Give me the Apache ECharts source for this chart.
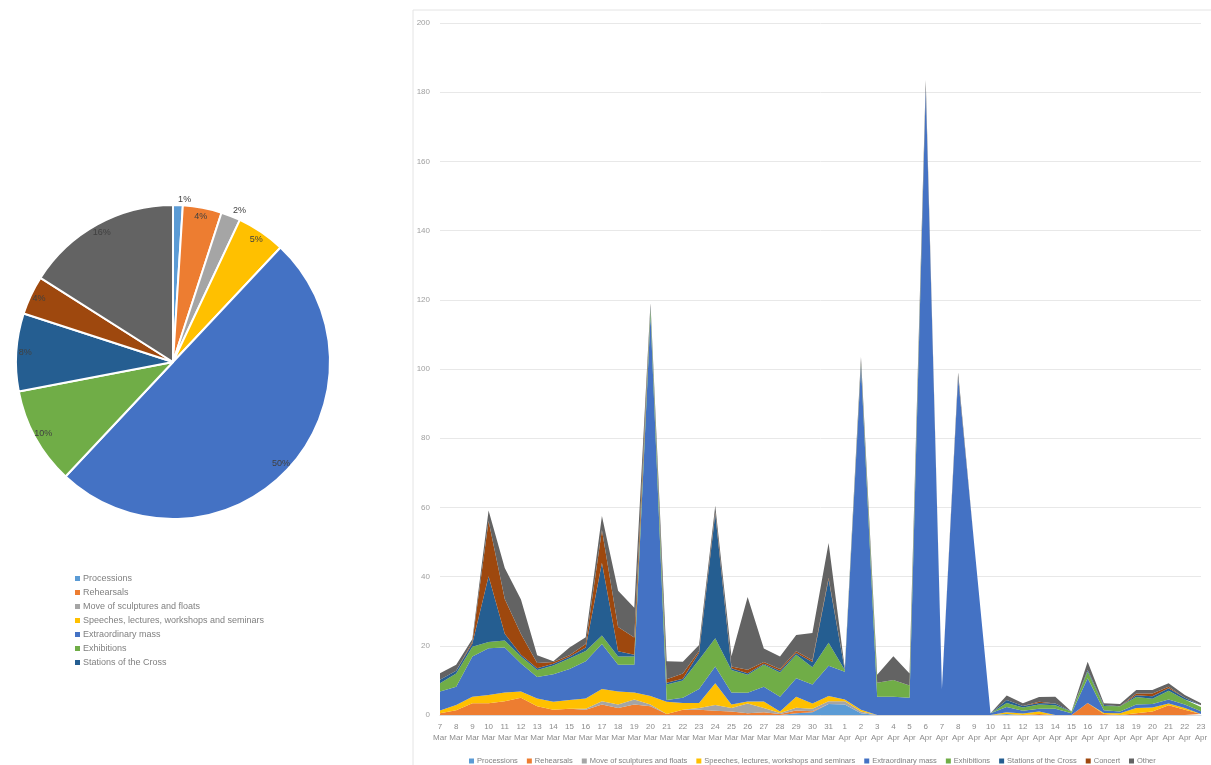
<!DOCTYPE html>
<html>
<head>
<meta charset="utf-8">
<script src="https://cdn.jsdelivr.net/npm/echarts@6/dist/echarts.min.js"></script>
<style>
html,body{margin:0;padding:0;background:#fff;}
#c{width:1211px;height:765px;}
</style>
</head>
<body>
<div id="c"></div>
<script>
const seriesNames = ['Processions','Rehearsals','Move of sculptures and floats','Speeches, lectures, workshops and seminars','Extraordinary mass','Exhibitions','Stations of the Cross','Concert','Other'];
const colors = ['#5B9BD5','#ED7D31','#A5A5A5','#FFC000','#4472C4','#70AD47','#255E91','#9E480E','#636363'];
const pieValues = [1,4,2,5,50,10,8,4,16];
const pieLegendNames = ['Processions','Rehearsals','Move of sculptures and floats','Speeches, lectures, workshops and seminars','Extraordinary mass','Exhibitions','Stations of the Cross'];

const categories = ['7 Mar','8 Mar','9 Mar','10 Mar','11 Mar','12 Mar','13 Mar','14 Mar','15 Mar','16 Mar','17 Mar','18 Mar','19 Mar','20 Mar','21 Mar','22 Mar','23 Mar','24 Mar','25 Mar','26 Mar','27 Mar','28 Mar','29 Mar','30 Mar','31 Mar',
'1 Apr','2 Apr','3 Apr','4 Apr','5 Apr','6 Apr','7 Apr','8 Apr','9 Apr','10 Apr','11 Apr','12 Apr','13 Apr','14 Apr','15 Apr','16 Apr','17 Apr','18 Apr','19 Apr','20 Apr','21 Apr','22 Apr','23 Apr'];

const processions = [0,0,0,0,0,0,0,0,0,0,0,0,0,0,0,0,0,0,0,0,0,0,0.5,0.8,3.2,3,0.5,0,0,0,0,0,0,0,0,0.3,0,0,0,0,0,0,0,0,0,0,0,0];
const rehearsals = [0.5,1.4,3.4,3.4,4,5,2.5,1.5,1.8,1.5,3,2,3,2.5,0.3,1.5,1.5,1.2,1,0.5,0.8,0.3,0.8,0.3,0,0,0,0,0,0,0,0,0,0,0,0,0,0.3,0,0,3.5,0.3,0,0.5,1,2.8,1.5,0.3];
const moveSculptures = [0,0,0,0,0,0,0,0,0,0.3,1,1,1.5,0.5,0,0,0.5,1.7,1,2.8,1.2,0.3,0.8,0.7,0.8,1,0.5,0,0,0,0,0,0,0,0,0,0,0,0,0,0,0,0,0,0,0,0,0];
const speeches = [0.8,1.5,1.9,2.4,2.5,1.8,2.3,2.3,2.5,3,3.5,3.8,2,2.5,3.5,2,1.5,6.3,1,0.6,1.9,0.4,3.2,1.5,1.5,0.5,0.5,0,0,0,0,0,0,0,0,0.5,0.4,0.7,0,0,0,0.3,0.5,1.5,1.2,0.5,0.5,0];
const extraordinaryMass = [5.5,5.3,11.6,13.5,13,8.1,6.2,8,9,10.7,13,7.7,8,110,0.5,1.5,4,4.8,3.5,2.5,4.3,4.3,5.3,5.5,8.7,8,99.5,5.3,5.3,5,181,7.5,97.5,49,0.5,1.5,0.8,0.8,1.8,0.5,7.1,0.8,0.5,1,1,1.2,1,0.8];
const exhibitions = [2.4,3.8,2.8,1.8,2,2,2,2.5,3,3,2.5,2.4,2.4,2,4.5,5,8.5,8.2,6.5,5.2,6.3,7,6.8,5,6.7,0.5,0.5,4,4.8,3.5,0,0,0,0,0,1.2,1,1.2,1,0.5,2,1.2,1.5,2.2,1.5,2.5,1.5,1.2];
const stations = [1,0.8,1,19,2,0.5,0.5,0.5,0.5,1,21,1.5,0.5,0.5,0.5,0.5,2,36,0.5,0.5,0.3,0.5,0.5,1.5,18.3,0,0,0,0,0,0,0,0,0,0,0.8,0.4,0.5,0.5,0,0.4,0.3,0,0.5,0.7,0.7,0.5,0.5];
const concert = [0,0,0.5,16,10,6,1.5,0.5,0.5,1,9.5,7,5,0,1,1.5,0.5,0.5,0.5,1,0.5,0.5,0.5,0.5,0.5,0,0,0,0,0,0,0,0,0,0,0,0,0.3,0,0,0,0,0,0.5,0.8,0.5,0,0];
const other = [1.9,1.7,0.8,3,9,10,2.3,0.2,2.2,2,4,10.5,8.6,1,5.2,3.4,1.7,1.8,3,21,3.9,3.6,4.7,7.9,10,0.5,2,2.3,6.9,3.5,2.5,0,1.5,0,0,1.3,0.8,1.4,2,0,2.4,0.5,0.7,1,1,1,0.8,0.6];

const yTicks = {min:0, max:200, interval:20};

const areaData = [processions,rehearsals,moveSculptures,speeches,extraordinaryMass,exhibitions,stations,concert,other];

const chart = echarts.init(document.getElementById('c'));

const pieMain = {
  type:'pie', center:[173,362], radius:157, startAngle:90, clockwise:true,
  label:{show:false}, labelLine:{show:false},
  itemStyle:{borderColor:'#fff', borderWidth:2},
  data: seriesNames.map((n,i)=>({name:n, value:pieValues[i], itemStyle:{color:colors[i]}}))
};
const smallOutside = {position:'outside', distanceToLabelLine:0};
const pieLabels = {
  type:'pie', center:[173,362], radius:[131,159], startAngle:90, clockwise:true,
  silent:true, avoidLabelOverlap:false, percentPrecision:0,
  itemStyle:{color:'rgba(0,0,0,0)', borderWidth:0},
  label:{show:true, position:'inside', formatter:'{d}%', fontSize:9, color:'#404040', fontFamily:'Liberation Sans'},
  labelLine:{show:false, length:4, length2:0},
  data: seriesNames.map((n,i)=>{
    const d = {name:n, value:pieValues[i]};
    if (pieValues[i] <= 2) { d.label = smallOutside; d.labelLine = {show:false, length:4, length2:0}; }
    return d;
  })
};

const areaSeries = seriesNames.map((n,i)=>({
  name:n, type:'line', stack:'total', data:areaData[i],
  showSymbol:false, symbol:'none',
  lineStyle:{width:0}, areaStyle:{color:colors[i], opacity:1},
  itemStyle:{color:colors[i]}
}));

chart.setOption({
  animation:false,
  color:colors,
  textStyle:{fontFamily:'Liberation Sans'},
  graphic:[{type:'rect', shape:{x:413, y:10, width:820, height:800}, style:{fill:'none', stroke:'#e4e4e4', lineWidth:1}, silent:true}],
  legend:[
    {orient:'vertical', left:70, top:569, data:pieLegendNames, icon:'rect', itemWidth:5, itemHeight:5, itemGap:5,
     textStyle:{fontSize:9, color:'#808080', padding:[0,0,0,-2]}, selectedMode:false},
    {orient:'horizontal', left:464, top:752, data:seriesNames, icon:'rect', itemWidth:5, itemHeight:5, itemGap:9,
     textStyle:{fontSize:7.5, color:'#808080', padding:[0,0,0,-2]}, selectedMode:false}
  ],
  grid:{left:440, right:10, top:23, bottom:50},
  xAxis:{type:'category', boundaryGap:false, data:categories,
    axisTick:{show:false}, axisLine:{lineStyle:{color:'#d9d9d9'}},
    axisLabel:{interval:0, fontSize:8, color:'#8c8c8c', margin:6, lineHeight:11, formatter:v=>v.replace(' ','\n')}},
  yAxis:{type:'value', min:yTicks.min, max:yTicks.max, interval:yTicks.interval,
    axisLine:{show:false}, axisTick:{show:false},
    axisLabel:{fontSize:8, color:'#a0a0a0', margin:10},
    splitLine:{lineStyle:{color:'#e8e8e8'}}},
  series:[pieMain, pieLabels].concat(areaSeries)
});
</script>
</body>
</html>
